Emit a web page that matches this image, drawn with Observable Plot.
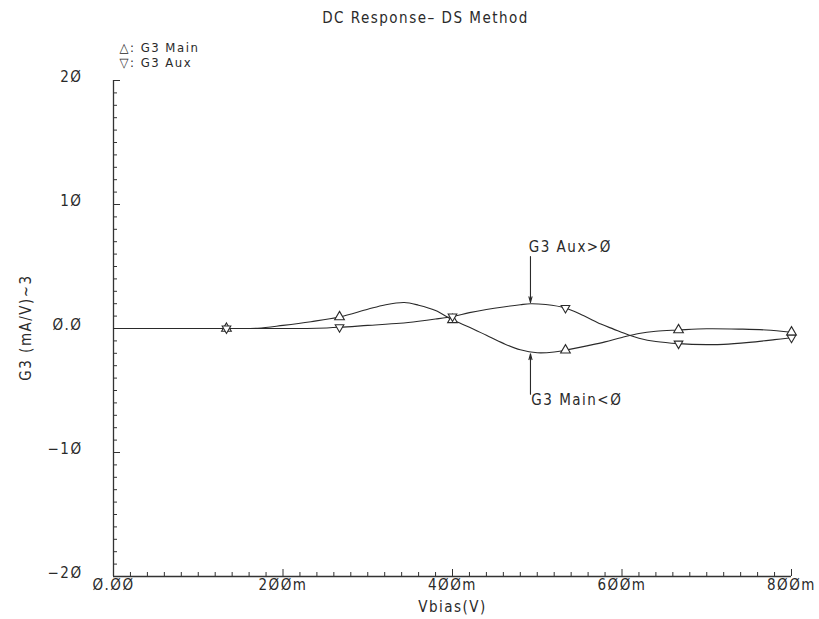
<!DOCTYPE html>
<html><head><meta charset="utf-8">
<script src="https://cdn.jsdelivr.net/npm/d3@7"></script>
<script src="https://cdn.jsdelivr.net/npm/@observablehq/plot@0.6"></script>
<style>body{margin:0;background:#fff}</style>
</head><body><div id="chart"></div>
<script>
// ---- data ----
const titleText = "DC Response– DS Method";
const xLabel = "Vbias(V)";
const yLabel = "G3 (mA/V)~3";
const legendLabels = ["△: G3 Main", "▽: G3 Aux"];

// Vbias in mV
const mainVbias = [0, 100, 133.3, 170, 200, 233, 266.7, 300, 320, 343, 360, 380, 400, 420, 440, 460, 480, 500, 520, 533.3, 560, 580, 600, 620, 640, 666.7, 700, 740, 770, 800];
const mainG3 = [0, 0, 0, 0.02, 0.25, 0.55, 0.93, 1.55, 1.9, 2.1, 1.88, 1.45, 0.7, 0.1, -0.55, -1.2, -1.72, -1.96, -1.9, -1.75, -1.38, -1.08, -0.72, -0.4, -0.22, -0.12, -0.02, -0.05, -0.12, -0.3];

const auxVbias = [0, 133.3, 200, 240, 266.7, 300, 338, 360, 380, 400, 420, 440, 460, 480, 492, 510, 533.3, 555, 575, 590, 608, 620, 640, 666.7, 700, 720, 750, 780, 800];
const auxG3 = [0, 0, 0, 0.02, 0.1, 0.25, 0.42, 0.58, 0.76, 0.97, 1.28, 1.53, 1.74, 1.92, 2.0, 1.93, 1.65, 1.02, 0.36, -0.05, -0.53, -0.78, -1.05, -1.22, -1.3, -1.28, -1.12, -0.9, -0.74];

const markerVbias = [133.3, 266.7, 400, 533.3, 666.7, 800];

const xTicks = [0, 200, 400, 600, 800];
const xTickLabels = ["Ø.ØØ", "2ØØm", "4ØØm", "6ØØm", "8ØØm"];
const yTicks = [-20, -10, 0, 10, 20];
const yTickLabels = ["−2Ø", "−1Ø", "Ø.Ø", "1Ø", "2Ø"];

const notes = [
  {label: "G3 Aux>Ø", x: 490, y: 6.55},
  {label: "G3 Main<Ø", x: 493, y: -5.8}
];
const arrows = [
  {x: 492, y1: 5.8, y2: 2.1},
  {x: 492, y1: -5.3, y2: -2.05}
];

// ---- build tables ----
const mainData = mainVbias.map((v, i) => ({v, g: mainG3[i]}));
const auxData = auxVbias.map((v, i) => ({v, g: auxG3[i]}));
const mainMarks = markerVbias.map(v => ({v, g: mainG3[mainVbias.indexOf(v)]}));
const auxMarks = markerVbias.map(v => ({v, g: auxG3[auxVbias.indexOf(v)]}));

const xMinor = d3.range(0, 801, 20).filter(d => d % 200 !== 0);
const yMinor = d3.range(-20, 21, 1).filter(d => d % 10 !== 0);

const W = 819, H = 619, mL = 113, mR = 28, mT = 80, mB = 43;
const innerW = W - mL - mR, innerH = H - mT - mB;
const ink = "#2a2a2a";
const FS = 15;

const triDown = {
  draw(context, size) {
    const s = Math.sqrt(size / 0.4330127);
    const h = s * Math.sqrt(3) / 2;
    context.moveTo(0, h * 2 / 3);
    context.lineTo(s / 2, -h / 3);
    context.lineTo(-s / 2, -h / 3);
    context.closePath();
  }
};
const triUp = {
  draw(context, size) {
    const s = Math.sqrt(size / 0.4330127);
    const h = s * Math.sqrt(3) / 2;
    context.moveTo(0, -h * 2 / 3);
    context.lineTo(s / 2, h / 3);
    context.lineTo(-s / 2, h / 3);
    context.closePath();
  }
};

const chart = Plot.plot({
  width: W, height: H,
  marginLeft: mL, marginRight: mR, marginTop: mT, marginBottom: mB,
  style: {fontFamily: "'DejaVu Sans Condensed', 'DejaVu Sans', sans-serif", fontStretch: "condensed", fontSize: FS + "px", letterSpacing: "1.5px", color: ink, background: "#fff"},
  x: {domain: [0, 800]},
  y: {domain: [-20, 20]},
  marks: [
    // axis lines
    Plot.ruleX([0], {stroke: "#333", strokeWidth: 1.3}),
    Plot.ruleY([-20], {stroke: "#333", strokeWidth: 1.3}),
    // inward ticks
    Plot.tickY(yMinor, {y: d => d, insetRight: innerW - 4, stroke: "#333"}),
    Plot.tickY(yTicks, {y: d => d, insetRight: innerW - 7, stroke: "#333"}),
    Plot.tickX(xMinor, {x: d => d, insetTop: innerH - 4, stroke: "#333"}),
    Plot.tickX(xTicks, {x: d => d, insetTop: innerH - 7, stroke: "#333"}),
    // axis labels
    Plot.axisX({ticks: xTicks, tickFormat: d => xTickLabels[xTicks.indexOf(d)], tickSize: 0, tickPadding: 3, fontSize: FS, label: null}),
    Plot.axisY({ticks: yTicks, tickFormat: d => yTickLabels[yTicks.indexOf(d)], tickSize: 0, tickPadding: 31, dy: -3, fontSize: FS, label: null}),
    // curves
    Plot.line(mainData, {x: "v", y: "g", curve: "catmull-rom", stroke: ink, strokeWidth: 1.1}),
    Plot.line(auxData, {x: "v", y: "g", curve: "catmull-rom", stroke: ink, strokeWidth: 1.1}),
    Plot.dot(mainMarks, {x: "v", y: "g", symbol: triUp, r: 3.6, stroke: ink, fill: "white", strokeWidth: 1.1}),
    Plot.dot(auxMarks, {x: "v", y: "g", symbol: triDown, r: 3.2, stroke: ink, fill: "white", strokeWidth: 1.1}),
    // annotations
    Plot.arrow(arrows, {x1: "x", x2: "x", y1: "y1", y2: "y2", stroke: ink, strokeWidth: 1.1, headLength: 8, headAngle: 30}),
    Plot.text(notes, {x: "x", y: "y", text: "label", textAnchor: "start", fontSize: FS, fill: ink}),
    // title, legend, axis titles
    Plot.text([titleText], {text: d => d, frameAnchor: "top", lineAnchor: "middle", dx: -27, dy: -62, fontSize: FS, fill: ink}),
    Plot.text([legendLabels[0]], {text: d => d, frameAnchor: "top-left", textAnchor: "start", lineAnchor: "middle", dx: 6, dy: -33, fontSize: 13, fill: ink}),
    Plot.text([legendLabels[1]], {text: d => d, frameAnchor: "top-left", textAnchor: "start", lineAnchor: "middle", dx: 6, dy: -18, fontSize: 13, fill: ink}),
    Plot.text([xLabel], {text: d => d, frameAnchor: "bottom", lineAnchor: "middle", dy: 31, fontSize: FS, fill: ink}),
    Plot.text([yLabel], {text: d => d, frameAnchor: "left", textAnchor: "middle", lineAnchor: "middle", dx: -87, dy: -1, rotate: -90, fontSize: FS, fill: ink})
  ]
});
document.getElementById("chart").append(chart);
</script></body></html>
